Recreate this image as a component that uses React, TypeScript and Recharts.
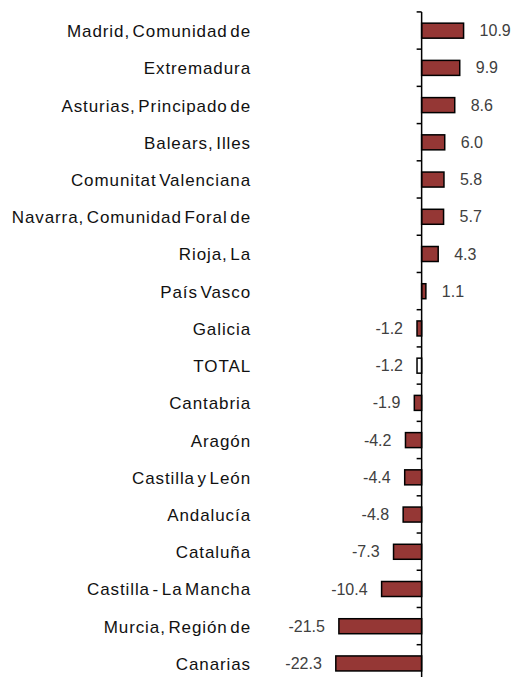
import { BarChart, Bar, XAxis, YAxis, ReferenceLine, LabelList, Cell } from "recharts"

const regions = [
  "Madrid, Comunidad de",
  "Extremadura",
  "Asturias, Principado de",
  "Balears, Illes",
  "Comunitat Valenciana",
  "Navarra, Comunidad Foral de",
  "Rioja, La",
  "País Vasco",
  "Galicia",
  "TOTAL",
  "Cantabria",
  "Aragón",
  "Castilla y León",
  "Andalucía",
  "Cataluña",
  "Castilla - La Mancha",
  "Murcia, Región de",
  "Canarias",
]

const changes = [10.9, 9.9, 8.6, 6.0, 5.8, 5.7, 4.3, 1.1, -1.2, -1.2, -1.9, -4.2, -4.4, -4.8, -7.3, -10.4, -21.5, -22.3]

const data = regions.map((name, i) => ({ name, value: changes[i] }))

const FONT = '"Liberation Sans", Arial, sans-serif'
const BAR_FILL = "#953735"
const GAP = 0.3 // barCategoryGap as a fraction of the band

// bar plus the little axis tick at the top of its band
function BarShape(props: any) {
  const { x, y, width, height, fill, payload } = props
  const left = Math.min(x, x + width)
  const w = Math.abs(width)
  const zero = payload.value >= 0 ? left : left + w
  // band top: bar is (1 - 2*GAP) of the band, offset by GAP from its top
  const bandTop = y - (height * GAP) / (1 - 2 * GAP)
  return (
    <g>
      <rect x={left} y={y} width={w} height={height} fill={fill} stroke="#000" strokeWidth={1.5} />
      <line x1={zero - 5} x2={zero} y1={bandTop} y2={bandTop} stroke="#000" strokeWidth={1.5} />
    </g>
  )
}

function ValueLabel(props: any) {
  const { x, y, width, height, value } = props
  const left = Math.min(x, x + width)
  const right = Math.max(x, x + width)
  const neg = value < 0
  return (
    <text
      x={neg ? left - 14 : right + 16}
      y={y + height / 2}
      textAnchor={neg ? "end" : "start"}
      dominantBaseline="central"
      fontSize={16}
      fontFamily={FONT}
      fill="#404040"
    >
      {value.toFixed(1)}
    </text>
  )
}

function CategoryTick(props: any) {
  const { x, y, payload } = props
  return (
    <text
      x={x}
      y={y + 1}
      textAnchor="end"
      dominantBaseline="central"
      fontSize={17}
      letterSpacing={0.9}
      wordSpacing={-3}
      fontFamily={FONT}
      fill="#111"
    >
      {payload.value}
    </text>
  )
}

export default function App() {
  return (
    <div style={{ position: "absolute", left: 0, top: 0, width: 517, height: 677, overflow: "hidden", background: "#fff" }}>
      <BarChart
        width={517}
        height={690}
        data={data}
        layout="vertical"
        margin={{ top: 12, right: 3, bottom: 8, left: 20 }}
        barCategoryGap={`${GAP * 100}%`}
      >
        <XAxis type="number" domain={[-42, 24]} hide />
        <YAxis
          type="category"
          dataKey="name"
          width={240}
          axisLine={false}
          tickLine={false}
          tickSize={0}
          tickMargin={9}
          interval={0}
          tick={<CategoryTick />}
        />
        <Bar dataKey="value" fill={BAR_FILL} shape={<BarShape />} isAnimationActive={false}>
          {data.map((d) => (
            <Cell key={d.name} fill={d.name === "TOTAL" ? "#ffffff" : BAR_FILL} />
          ))}
          <LabelList dataKey="value" content={<ValueLabel />} />
        </Bar>
        <ReferenceLine x={0} stroke="#000" strokeWidth={1.5} />
      </BarChart>
    </div>
  )
}
